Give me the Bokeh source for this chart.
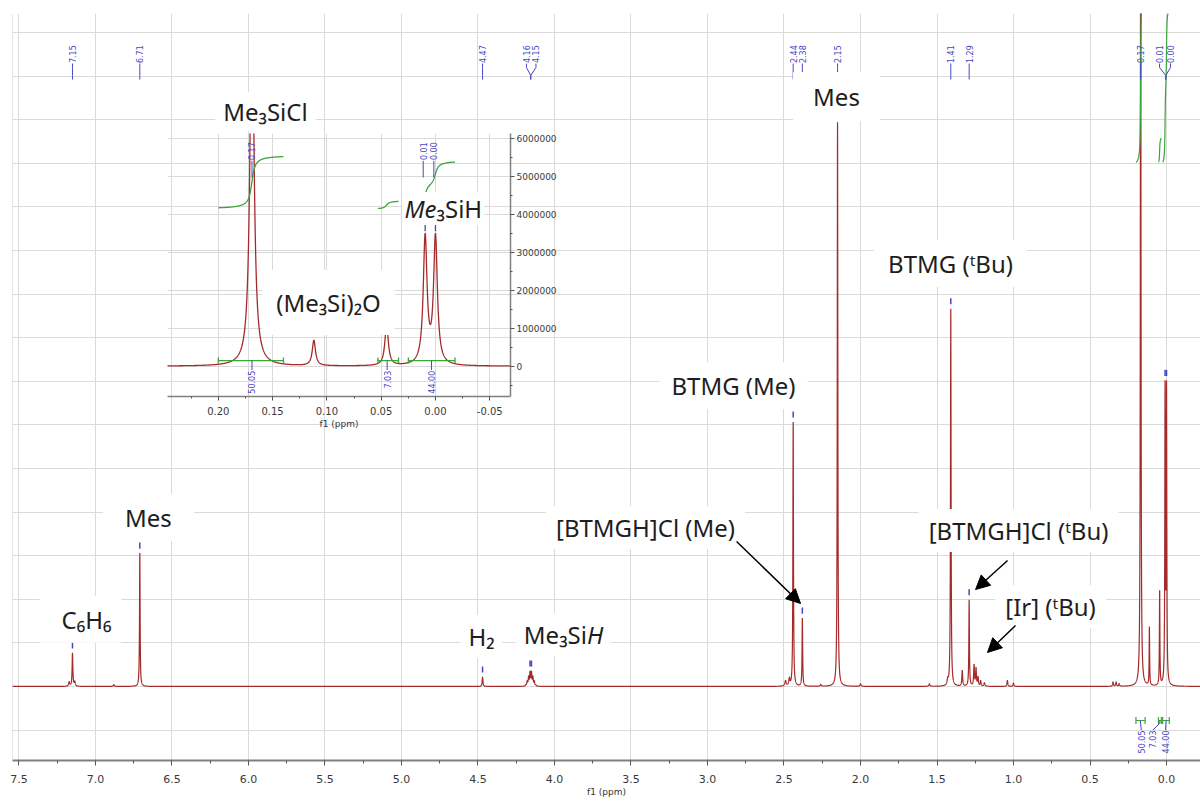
import numpy as np
from bokeh.plotting import figure
from bokeh.models import (Range1d, FixedTicker, NumeralTickFormatter, Grid, Label,
                          Arrow, NormalHead, Span, GridBox)
from bokeh.embed import file_html
from bokeh.resources import INLINE

# ---------------- data ----------------
# 1H NMR lines: chemical shift (ppm), height (in millions of intensity units), half width (ppm)
peak_ppm = [7.172, 7.150, 7.135, 6.880, 6.710, 4.470,
            4.1878, 4.1785, 4.1692, 4.1598, 4.1505, 4.1412, 4.1318, 4.1225,
            2.490, 2.465, 2.440, 2.380, 2.260, 2.150, 2.000,
            1.550, 1.430, 1.410, 1.335, 1.290, 1.258, 1.245, 1.232, 1.215, 1.190,
            1.040, 1.000, 0.350, 0.330, 0.310,
            0.169, 0.112, 0.045, 0.0095, 0.000]
peak_height_mil = [0.05, 0.38, 0.05, 0.02, 1.53, 0.11,
                   0.012, 0.05, 0.10, 0.15, 0.15, 0.10, 0.05, 0.012,
                   0.06, 0.08, 3.03, 0.78, 0.02, 6.47, 0.03,
                   0.03, 0.06, 4.33, 0.18, 0.99, 0.24, 0.20, 0.10, 0.06, 0.04,
                   0.07, 0.04, 0.05, 0.05, 0.03,
                   10.0, 0.67, 1.08, 3.35, 3.35]
peak_hwhm = [0.004, 0.0028, 0.004, 0.004, 0.0022, 0.003,
             0.003, 0.003, 0.003, 0.003, 0.003, 0.003, 0.003, 0.003,
             0.005, 0.004, 0.0022, 0.0022, 0.004, 0.0022, 0.004,
             0.004, 0.004, 0.0022, 0.003, 0.0022, 0.003, 0.003, 0.003, 0.003, 0.004,
             0.003, 0.003, 0.003, 0.003, 0.003,
             0.0022, 0.0018, 0.0019, 0.0021, 0.0021]

# peak picking labels (top band of the main spectrum)
top_label_text = ["7.15", "6.71", "4.47", "4.16", "4.15", "2.44", "2.38", "2.15",
                  "1.41", "1.29", "0.17", "0.01", "0.00"]
top_label_ppm = [7.15, 6.71, 4.47, 4.183, 4.121, 2.44, 2.38, 2.15,
                 1.41, 1.29, 0.169, 0.0458, -0.026]
top_label_peak_ppm = [7.15, 6.71, 4.47, 4.155, 4.155, 2.44, 2.38, 2.15,
                      1.41, 1.29, 0.169, 0.005, 0.005]
marker_ppm = [7.15, 6.71, 4.47, 4.1598, 4.1505, 2.44, 2.38, 2.15, 1.41, 1.29, 0.0095, 0.0]

# peak picking labels of the inset
inset_label_text = ["0.17", "0.01", "0.00"]
inset_label_ppm = [0.169, 0.0113, 0.0015]
inset_marker_ppm = [0.0095, 0.0]

# integrals
integ_from = [0.20, 0.053, 0.025]
integ_to = [0.14, 0.034, -0.018]
integ_values = [50.05, 7.03, 44.00]
integ_text = ["50.05", "7.03", "44.00"]
integ_label_ppm_main = [0.165, 0.0895, 0.0065]
integ_label_ppm_inset = [0.169, 0.0445, 0.0037]
inset_integ_start_mil = [4.18, 4.16, 4.20]

# axis ticks
main_ticks = [0.0, 0.5, 1.0, 1.5, 2.0, 2.5, 3.0, 3.5, 4.0, 4.5, 5.0, 5.5, 6.0, 6.5, 7.0, 7.5]
main_minor = [0.25, 0.75, 1.25, 1.75, 2.25, 2.75, 3.25, 3.75, 4.25, 4.75, 5.25, 5.75, 6.25, 6.75, 7.25]
main_hgrid_mil = [-0.5, 0.0, 0.5, 1.0, 1.5, 2.0, 2.5, 3.0, 3.5, 4.0, 4.5, 5.0, 5.5, 6.0, 6.5, 7.0, 7.5]
inset_xticks = [-0.05, 0.0, 0.05, 0.10, 0.15, 0.20]
inset_xminor = [-0.025, 0.025, 0.075, 0.125, 0.175, 0.225]
inset_yticks_mil = [0, 1, 2, 3, 4, 5, 6]
inset_yminor_mil = [-0.5, 0.5, 1.5, 2.5, 3.5, 4.5, 5.5]

# annotations (text, ppm, height in millions)
ann_text = ["Mes", "Me\u2083SiCl", "BTMG (\u1d57Bu)", "BTMG (Me)", "[BTMGH]Cl (Me)",
            "[BTMGH]Cl (\u1d57Bu)", "[Ir] (\u1d57Bu)", "Mes", "C\u2086H\u2086", "H\u2082"]
ann_ppm = [2.157, 5.889, 1.412, 2.830, 3.405, 0.967, 0.758, 6.654, 7.098, 4.477]
ann_y_mil = [6.766, 6.594, 4.851, 3.452, 1.823, 1.789, 0.917, 1.938, 0.77, 0.573]
ann_pad = [(20, 20, 8, 8), (8, 8, 3, 3), (14, 14, 7, 7), (12, 12, 7, 7), (10, 10, 5, 5),
           (10, 10, 5, 5), (10, 10, 5, 5), (22, 22, 7, 7), (22, 10, 7, 7), (8, 8, 5, 5)]

arrow_x0 = [2.810, 1.039, 0.987]
arrow_y0_mil = [1.663, 1.445, 0.700]
arrow_x1 = [2.392, 1.248, 1.170]
arrow_y1_mil = [0.952, 1.112, 0.390]

# ---------------- colours / fonts ----------------
RED = "#a52a2a"
BLUE = "#4646c3"
GREEN = "#3aa63a"
GRID = "#dadada"
AXIS = "#808080"
LBL_FONT = "Noto Sans"
LBL_SIZE = "24px"
M = 1e6
BORDER_L, BORDER_T = 12, 13


def spectrum(x):
    y = np.zeros_like(x, dtype=float)
    for c, h, g in zip(peak_ppm, peak_height_mil, peak_hwhm):
        y += h * M / (1.0 + ((x - c) / g) ** 2)
    return y


x_main = np.union1d(np.arange(-0.23, 7.55, 0.0004), peak_ppm)
y_main = spectrum(x_main)
x_ins = np.union1d(np.arange(-0.075, 0.25, 0.0002), [v for v in peak_ppm if -0.08 < v < 0.26])
y_ins = spectrum(x_ins)


def local_max(c):
    xs = np.linspace(c - 0.003, c + 0.003, 61)
    return spectrum(xs).max()


def integral_curve(a, b, start, rise):
    xs = np.arange(b, a, 0.0002)[::-1]
    ys = spectrum(xs)
    c = np.cumsum(ys)
    c = c / c[-1]
    return xs, start + rise * c


def style_axis(ax, size):
    ax.major_label_text_font = "DejaVu Sans"
    ax.major_label_text_font_size = size
    ax.major_label_text_color = "#3a3a3a"
    ax.axis_line_color = AXIS
    ax.major_tick_line_color = "#555555"
    ax.minor_tick_line_color = "#555555"
    ax.major_tick_in = 0
    ax.minor_tick_in = 0


# ================= main spectrum =================
p = figure(frame_width=1188, frame_height=747,
           x_range=Range1d(7.542, -0.222), y_range=Range1d(-0.849 * M, 7.718 * M),
           y_axis_location=None, output_backend="svg", toolbar_location=None,
           min_border_left=BORDER_L, min_border_right=0, min_border_top=BORDER_T,
           min_border_bottom=41)
p.outline_line_color = None
p.background_fill_color = "white"
p.border_fill_color = "white"

p.xaxis.ticker = FixedTicker(ticks=main_ticks, minor_ticks=main_minor)
p.xaxis.formatter = NumeralTickFormatter(format="0.0")
p.xaxis.axis_label = "f1 (ppm)"
p.xaxis.axis_label_text_font_style = "normal"
p.xaxis.axis_label_text_font = "DejaVu Sans"
p.xaxis.axis_label_text_font_size = "9px"
p.xaxis.axis_label_text_color = "#333333"
p.xaxis.axis_label_standoff = 1
style_axis(p.xaxis[0], "11px")
p.xaxis.major_label_standoff = 9
p.xaxis.axis_line_width = 2
p.xaxis.major_tick_out = 5
p.xaxis.minor_tick_out = 3
p.xgrid.ticker = FixedTicker(ticks=main_ticks)
p.xgrid.grid_line_color = GRID
p.add_layout(Grid(dimension=1, ticker=FixedTicker(ticks=[v * M for v in main_hgrid_mil]),
                  grid_line_color=GRID))
p.add_layout(Span(location=7.542, dimension="height", line_color="#cfcfcf", line_width=1))

p.line(x_main, y_main, line_color=RED, line_width=1.2)

# integral curves (main)
for a, b, v in zip(integ_from, integ_to, integ_values):
    xs, ys = integral_curve(a, b, 6.01 * M, v * 0.0398 * M)
    p.line(xs, ys, line_color=GREEN, line_width=1.2)

# integral bars + labels (main)
bar_y = -0.39 * M
for a, b, v, t, lx in zip(integ_from, integ_to, integ_values, integ_text, integ_label_ppm_main):
    p.segment([a, a, b], [bar_y, bar_y - 0.04 * M, bar_y - 0.04 * M],
              [b, a, b], [bar_y, bar_y + 0.04 * M, bar_y + 0.04 * M],
              line_color=GREEN, line_width=1.2)
    mid = (a + b) / 2
    p.line([mid, mid, lx], [bar_y, bar_y - 0.03 * M, -0.50 * M], line_color=BLUE, line_width=1)
    p.add_layout(Label(x=lx, y=-0.505 * M, text=t, angle=90, angle_units="deg",
                       text_align="right", text_baseline="middle", text_font="DejaVu Sans",
                       text_font_size="8px", text_color=BLUE))

# top band peak labels (main)
for t, lx, px in zip(top_label_text, top_label_ppm, top_label_peak_ppm):
    p.line([lx, lx, px, px], [7.144 * M, 7.099 * M, 7.007 * M, 6.961 * M],
           line_color=BLUE, line_width=1)
    p.add_layout(Label(x=lx, y=7.15 * M, text=t, angle=90, angle_units="deg",
                       text_align="left", text_baseline="middle", text_font="DejaVu Sans",
                       text_font_size="8px", text_color=BLUE))

# peak markers above the tops
mk_h = [local_max(c) for c in marker_ppm]
p.segment(marker_ppm, [h + 0.05 * M for h in mk_h], marker_ppm, [h + 0.12 * M for h in mk_h],
          line_color=BLUE, line_width=1.5)

# annotations
for t, x, y, pad in zip(ann_text, ann_ppm, ann_y_mil, ann_pad):
    p.add_layout(Label(x=x, y=y * M, text=t, text_font=LBL_FONT, text_font_size=LBL_SIZE,
                       text_color="#1e1e1e", text_align="center", text_baseline="middle",
                       background_fill_color="white",
                       padding=dict(left=pad[0], right=pad[1], top=pad[2], bottom=pad[3])))
# Me3SiH (H in italics)
p.add_layout(Label(x=3.788, y=0.596 * M, text="Me\u2083Si", text_font=LBL_FONT,
                   text_font_size=LBL_SIZE, text_color="#1e1e1e", text_align="right",
                   text_baseline="middle", background_fill_color="white",
                   padding=dict(left=8, right=0, top=5, bottom=5)))
p.add_layout(Label(x=3.788, y=0.596 * M, text="H", text_font=LBL_FONT, text_font_style="italic",
                   text_font_size=LBL_SIZE, text_color="#1e1e1e", text_align="left",
                   text_baseline="middle", background_fill_color="white",
                   padding=dict(left=0, right=8, top=5, bottom=5)))

for x0, y0, x1, y1 in zip(arrow_x0, arrow_y0_mil, arrow_x1, arrow_y1_mil):
    p.add_layout(Arrow(x_start=x0, y_start=y0 * M, x_end=x1, y_end=y1 * M,
                       line_color="black", line_width=1.5,
                       end=NormalHead(size=14, fill_color="black", line_color="black")))

# ================= inset =================
# its borders match the main plot's so that the grid alignment leaves the frame in place
ins = figure(frame_width=343, frame_height=263,
             x_range=Range1d(0.2468, -0.0691), y_range=Range1d(-0.799 * M, 6.14 * M),
             y_axis_location="right", output_backend="svg", toolbar_location=None,
             min_border_left=BORDER_L, min_border_top=BORDER_T, min_border_right=56,
             min_border_bottom=44)
ins.background_fill_alpha = 0
ins.border_fill_alpha = 0
ins.outline_line_color = None
ins.margin = (133 - BORDER_T, 0, 0, 167 - BORDER_L)

ins.xaxis.ticker = FixedTicker(ticks=inset_xticks, minor_ticks=inset_xminor)
ins.xaxis.formatter = NumeralTickFormatter(format="0.00")
ins.xaxis.axis_label = "f1 (ppm)"
ins.xaxis.axis_label_text_font_style = "normal"
ins.xaxis.axis_label_text_font = "DejaVu Sans"
ins.xaxis.axis_label_text_font_size = "9px"
ins.xaxis.axis_label_text_color = "#333333"
ins.xaxis.axis_label_standoff = 1
style_axis(ins.xaxis[0], "10px")
ins.xaxis.major_label_standoff = 6
ins.yaxis.ticker = FixedTicker(ticks=[v * M for v in inset_yticks_mil],
                               minor_ticks=[v * M for v in inset_yminor_mil])
ins.yaxis.formatter = NumeralTickFormatter(format="0")
style_axis(ins.yaxis[0], "9px")
ins.yaxis.major_label_standoff = 2
for ax in (ins.xaxis[0], ins.yaxis[0]):
    ax.axis_line_width = 1.5
    ax.major_tick_out = 4
    ax.minor_tick_out = 2
ins.xgrid.ticker = FixedTicker(ticks=inset_xticks)
ins.ygrid.ticker = FixedTicker(ticks=[v * M for v in inset_yticks_mil])
ins.xgrid.grid_line_color = GRID
ins.ygrid.grid_line_color = GRID

ins.line(x_ins, y_ins, line_color=RED, line_width=1.3)

for a, b, v, s in zip(integ_from, integ_to, integ_values, inset_integ_start_mil):
    xs, ys = integral_curve(a, b, s * M, v * 0.027 * M)
    ins.line(xs, ys, line_color=GREEN, line_width=1.3)

ibar = 0.15 * M
for a, b, t, lx in zip(integ_from, integ_to, integ_text, integ_label_ppm_inset):
    ins.segment([a, a, b], [ibar, ibar - 0.08 * M, ibar - 0.08 * M],
                [b, a, b], [ibar, ibar + 0.08 * M, ibar + 0.08 * M],
                line_color=GREEN, line_width=1.3)
    ins.segment([lx], [ibar], [lx], [-0.10 * M], line_color=BLUE, line_width=1)
    ins.add_layout(Label(x=lx, y=-0.12 * M, text=t, angle=90, angle_units="deg",
                         text_align="right", text_baseline="middle", text_font="DejaVu Sans",
                         text_font_size="8px", text_color=BLUE))

for t, lx in zip(inset_label_text, inset_label_ppm):
    ins.segment([lx], [5.42 * M], [lx], [4.98 * M], line_color=BLUE, line_width=1)
    ins.add_layout(Label(x=lx, y=5.44 * M, text=t, angle=90, angle_units="deg",
                         text_align="left", text_baseline="middle", text_font="DejaVu Sans",
                         text_font_size="8px", text_color=BLUE))
imk_h = [local_max(c) for c in inset_marker_ppm]
ins.segment(inset_marker_ppm, [h + 0.05 * M for h in imk_h], inset_marker_ppm,
            [h + 0.22 * M for h in imk_h], line_color=BLUE, line_width=1.3)

ins.add_layout(Label(x=0.0985, y=1.681 * M, text="(Me\u2083Si)\u2082O", text_font=LBL_FONT,
                     text_font_size=LBL_SIZE, text_color="#1e1e1e", text_align="center",
                     text_baseline="middle", background_fill_color="white",
                     padding=dict(left=14, right=14, top=16, bottom=16)))
ins.add_layout(Label(x=-0.001, y=4.16 * M, text="Me", text_font=LBL_FONT, text_font_style="italic",
                     text_font_size=LBL_SIZE, text_color="#1e1e1e", text_align="right",
                     text_baseline="middle", background_fill_color="white",
                     padding=dict(left=2, right=0, top=0, bottom=0)))
ins.add_layout(Label(x=-0.001, y=4.16 * M, text="\u2083SiH", text_font=LBL_FONT,
                     text_font_size=LBL_SIZE, text_color="#1e1e1e", text_align="left",
                     text_baseline="middle", background_fill_color="white",
                     padding=dict(left=0, right=2, top=0, bottom=0)))

layout = GridBox(children=[(p, 0, 0), (ins, 0, 0)])
open("out.html", "w").write(file_html(layout, INLINE, title="1H NMR spectrum"))
